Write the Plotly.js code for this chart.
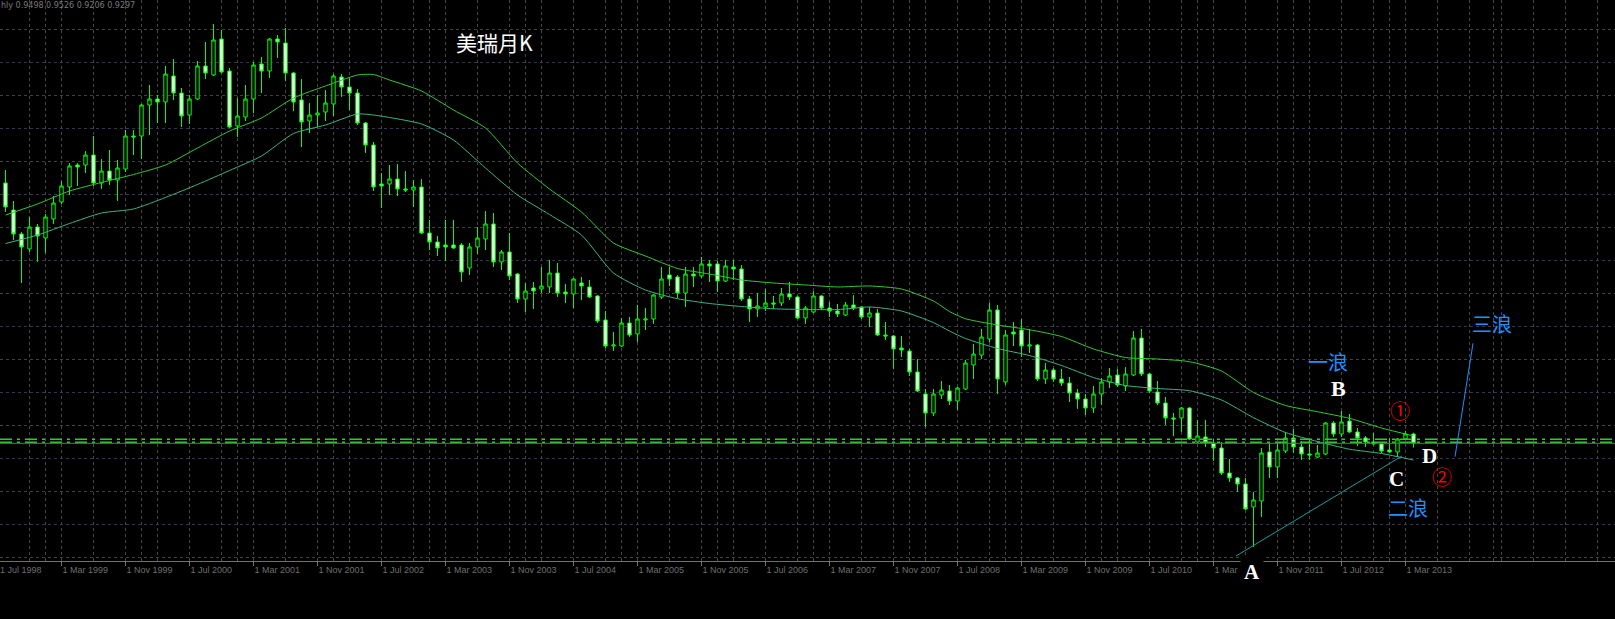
<!DOCTYPE html>
<html><head><meta charset="utf-8">
<script src="https://cdn.plot.ly/plotly-3.0.1.min.js"></script>
<style>html,body{margin:0;padding:0;background:#000;overflow:hidden}#chart{width:1615px;height:619px}</style>
</head><body><div id="chart"></div>
<script>
// USD/CHF monthly bars, Aug 1998 .. Apr 2013
const firstYear = 1998, firstMonth = 8;
const open = [
1.4907,1.4325,1.3808,1.3485,1.3959,1.3722,1.4131,1.4498,1.4821,1.5295,
1.5295,1.5510,1.4907,1.5165,1.4972,1.5209,1.5920,1.5920,1.6588,1.6717,
1.6653,1.7213,1.6846,1.6372,1.6717,1.7429,1.7234,1.8010,1.7320,1.6136,
1.6329,1.6717,1.7472,1.7320,1.8010,1.7924,1.7277,1.6696,1.6243,1.6372,
1.6437,1.6610,1.7191,1.6976,1.6846,1.6200,1.5726,1.4886,1.4886,1.4993,
1.4778,1.4756,1.4821,1.3829,1.3636,1.3571,1.3571,1.3571,1.3075,1.3528,
1.3700,1.4024,1.3205,1.3420,1.2946,1.2407,1.2645,1.2623,1.2666,1.2967,
1.2558,1.2515,1.2752,1.2666,1.2472,1.1955,1.1394,1.1394,1.1890,1.1653,
1.1955,1.1976,1.2450,1.2924,1.2881,1.2536,1.2946,1.2903,1.3162,1.3162,
1.2795,1.3097,1.3054,1.2407,1.2192,1.2235,1.2321,1.2321,1.2515,1.2450,
1.1998,1.2127,1.2472,1.2213,1.2148,1.2062,1.2278,1.2235,1.2019,1.2105,
1.1631,1.1610,1.1351,1.1286,1.0834,1.0360,0.9950,1.0338,1.0424,1.0209,
1.0468,1.0985,1.1200,1.1545,1.2170,1.0619,1.1696,1.1739,1.1394,1.1416,
1.0683,1.0877,1.0683,1.0597,1.0381,1.0252,1.0058,1.0360,1.0619,1.0769,
1.0532,1.0769,1.1567,1.0791,1.0403,1.0166,0.9843,0.9843,1.0058,0.9325,
0.9433,0.9304,0.9196,0.8657,0.8550,0.8421,0.7925,0.8054,0.9110,0.8787,
0.9131,0.9412,0.9218,0.9067,0.9002,0.9067,0.9735,0.9498,0.9778,0.9541,
0.9412,0.9325,0.9282,0.9153,0.9110,0.9390,0.9498];
const high = [
1.5187,1.4519,1.3851,1.4174,1.4024,1.4239,1.4627,1.4950,1.5338,1.5338,
1.5596,1.5920,1.5424,1.5618,1.5403,1.6049,1.6049,1.6610,1.7019,1.6803,
1.7429,1.7579,1.6955,1.6803,1.7536,1.7946,1.8334,1.8204,1.7386,1.6739,
1.7019,1.7515,1.7622,1.8032,1.8096,1.8248,1.7299,1.7148,1.6631,1.6803,
1.6911,1.7256,1.7256,1.7170,1.6933,1.6222,1.5791,1.5122,1.5295,1.5317,
1.5165,1.4972,1.4993,1.4110,1.3765,1.4110,1.4110,1.3614,1.3614,1.3959,
1.4304,1.4260,1.3463,1.3829,1.2967,1.2752,1.2774,1.3097,1.3248,1.3183,
1.2731,1.2860,1.2881,1.2817,1.2493,1.2148,1.1696,1.1998,1.2019,1.2278,
1.2213,1.2515,1.3097,1.3097,1.2924,1.3097,1.3097,1.3312,1.3248,1.3226,
1.3248,1.3248,1.3140,1.2472,1.2536,1.2623,1.2472,1.2645,1.2774,1.2472,
1.2256,1.2579,1.2493,1.2342,1.2299,1.2342,1.2493,1.2256,1.2235,1.2192,
1.1912,1.1631,1.1610,1.1330,1.1114,1.0468,1.0468,1.0640,1.0554,1.0511,
1.1093,1.1438,1.1761,1.2321,1.2278,1.1739,1.1912,1.1976,1.1761,1.1438,
1.1028,1.0920,1.0899,1.0726,1.0468,1.0360,1.0532,1.0705,1.0920,1.0899,
1.0942,1.1717,1.1761,1.0812,1.0640,1.0295,0.9950,1.0080,1.0080,0.9800,
0.9800,0.9390,0.9325,0.8959,0.8571,0.8550,0.8248,0.9196,0.9325,0.9325,
0.9541,0.9606,0.9347,0.9369,0.9261,0.9757,0.9778,0.9993,0.9929,0.9627,
0.9455,0.9520,0.9325,0.9412,0.9412,0.9563,0.9526];
const low = [
1.4282,1.3679,1.2752,1.3420,1.3205,1.3398,1.4024,1.4455,1.4648,1.4843,
1.5122,1.4843,1.4778,1.4864,1.4519,1.5144,1.5510,1.5424,1.5941,1.6200,
1.6200,1.6696,1.6114,1.6179,1.6696,1.7148,1.7213,1.7277,1.6093,1.5898,
1.6243,1.6415,1.6846,1.7170,1.7601,1.7105,1.6458,1.5683,1.5984,1.6114,
1.6243,1.6351,1.6760,1.6480,1.6157,1.5553,1.4734,1.4368,1.4648,1.4627,
1.4713,1.4390,1.3808,1.3463,1.3334,1.3226,1.3485,1.2774,1.2924,1.3377,
1.3463,1.3097,1.3032,1.2817,1.2321,1.2127,1.2192,1.2536,1.2536,1.2450,
1.2321,1.2213,1.2386,1.2429,1.1890,1.1351,1.1286,1.1373,1.1589,1.1481,
1.1739,1.1869,1.2407,1.2688,1.2429,1.2235,1.2666,1.2860,1.2774,1.2558,
1.2774,1.2817,1.2364,1.1912,1.2019,1.2148,1.2192,1.2256,1.2386,1.1976,
1.1869,1.2105,1.2170,1.2019,1.2019,1.2041,1.2170,1.1976,1.1804,1.1610,
1.1524,1.0899,1.1157,1.0748,1.0403,0.9649,0.9886,1.0252,1.0123,1.0015,
1.0446,1.0683,1.1114,1.1481,1.0360,1.0554,1.1394,1.1157,1.1243,1.0640,
1.0575,1.0619,1.0532,1.0187,1.0037,0.9907,0.9950,1.0123,1.0489,1.0511,
1.0424,1.0748,1.0748,1.0381,1.0123,0.9692,0.9455,0.9541,0.9369,0.9304,
0.9218,0.8916,0.8614,0.8464,0.8248,0.7860,0.7062,0.7709,0.8550,0.8550,
0.9088,0.9088,0.8938,0.8938,0.8981,0.9045,0.9433,0.9433,0.9520,0.9239,
0.9218,0.9261,0.9088,0.9088,0.9002,0.9369,0.9206];
const close = [
1.4390,1.3808,1.3528,1.3959,1.3765,1.4174,1.4476,1.4843,1.5274,1.5252,
1.5510,1.4907,1.5165,1.4972,1.5230,1.5920,1.5899,1.6588,1.6717,1.6653,
1.7256,1.6846,1.6351,1.6717,1.7429,1.7277,1.7989,1.7299,1.6114,1.6351,
1.6717,1.7450,1.7320,1.8010,1.7946,1.7277,1.6653,1.6222,1.6372,1.6415,
1.6631,1.7213,1.6976,1.6846,1.6200,1.5726,1.4821,1.4843,1.4993,1.4778,
1.4756,1.4821,1.3829,1.3636,1.3507,1.3528,1.3507,1.2989,1.3528,1.3722,
1.4024,1.3205,1.3420,1.2903,1.2407,1.2579,1.2579,1.2688,1.2967,1.2536,
1.2515,1.2838,1.2688,1.2450,1.1933,1.1394,1.1416,1.1890,1.1631,1.1976,
1.1976,1.2493,1.2838,1.2838,1.2536,1.2946,1.2903,1.3162,1.3119,1.2795,
1.3119,1.3054,1.2407,1.2192,1.2256,1.2321,1.2299,1.2515,1.2450,1.1998,
1.2213,1.2472,1.2213,1.2148,1.2084,1.2278,1.2213,1.2019,1.2105,1.1631,
1.1610,1.1330,1.1308,1.0834,1.0424,0.9950,1.0360,1.0446,1.0209,1.0489,
1.1028,1.1222,1.1588,1.2170,1.0683,1.1631,1.1653,1.1394,1.1416,1.0683,
1.0877,1.0683,1.0597,1.0381,1.0252,1.0058,1.0360,1.0619,1.0748,1.0554,
1.0791,1.1567,1.0791,1.0424,1.0166,0.9843,0.9821,1.0058,0.9390,0.9455,
0.9304,0.9196,0.8657,0.8550,0.8421,0.7882,0.8076,0.9088,0.8787,0.9153,
0.9412,0.9218,0.9067,0.9045,0.9088,0.9735,0.9498,0.9757,0.9541,0.9412,
0.9325,0.9282,0.9131,0.9110,0.9390,0.9498,0.9297];

// two moving-average envelope lines (bar index -> value)
const maBars = [0,4,8,12,16,20,24,28,32,36,40,44,46,48,52,56,60,64,68,72,76,80,84,88,92,96,100,104,108,112,116,118,120,124,128,132,136,140,144,148,152,156,160,164,168,172,176];
const maUpper = [1.4217,1.4455,1.4734,1.4918,1.5090,1.5295,1.5661,1.6027,1.6308,1.6739,1.6998,1.7234,1.7245,1.7127,1.6890,1.6480,1.6093,1.5338,1.4778,1.4282,1.3614,1.3334,1.3065,1.2946,1.2817,1.2752,1.2709,1.2666,1.2688,1.2623,1.2364,1.2137,1.1982,1.1847,1.1745,1.1599,1.1330,1.1146,1.1114,1.1056,1.0855,1.0392,1.0112,0.9978,0.9836,0.9627,0.9455];
const maLower = [1.3603,1.3786,1.4034,1.4260,1.4347,1.4595,1.4875,1.5176,1.5489,1.5974,1.6157,1.6394,1.6372,1.6319,1.6179,1.5834,1.5230,1.4648,1.4228,1.3786,1.2967,1.2601,1.2413,1.2310,1.2245,1.2196,1.2181,1.2178,1.2235,1.2148,1.1898,1.1717,1.1556,1.1340,1.1189,1.0974,1.0715,1.0543,1.0478,1.0431,1.0231,0.9849,0.9530,0.9335,0.9170,0.9077,0.8937];

// time-axis labels (bar index of each label); the Mar 2011 label is partly hidden behind the "A" marker
const tickBars = [7,15,23,31,39,47,55,63,71,79,87,95,103,111,119,127,135,143,151,159,167,175];
const tickLabels = ['1 Mar 1999','1 Nov 1999','1 Jul 2000','1 Mar 2001','1 Nov 2001','1 Jul 2002','1 Mar 2003','1 Nov 2003','1 Jul 2004','1 Mar 2005','1 Nov 2005','1 Jul 2006','1 Mar 2007','1 Nov 2007','1 Jul 2008','1 Mar 2009','1 Nov 2009','1 Jul 2010','1 Mar','1 Nov 2011','1 Jul 2012','1 Mar 2013'];
const cutLabel = '1 Jul 1998';

// horizontal levels
const levelLines = [0.9383, 0.9318];
const bidPrice = 0.9297;
const header = 'hly 0.9498 0.9526 0.9206 0.9297';

// ---- geometry helpers (pixel -> data) ----
const W = 1615, PLOT_H = 561, X0 = 5.5, PXB = 8, PTOP = 1.8851, PPU = 464;
const xd = px => (px - X0) / PXB;
const yd = py => PTOP - py / PPU;
const yp = py => (PLOT_H - py) / PLOT_H;   // pixel -> paper (for items below the plot)

const months = open.map((_, i) => {
  const m = firstMonth - 1 + i;
  return (firstYear + Math.floor(m / 12)) + '-' + String(m % 12 + 1).padStart(2, '0');
});
const idx = open.map((_, i) => i);

const traces = [
  {type:'scatter', mode:'lines', x: maBars, y: maUpper, line:{color:'#34c934', width:1, shape:'spline', smoothing:0.6}, hoverinfo:'skip', showlegend:false},
  {type:'scatter', mode:'lines', x: maBars, y: maLower, line:{color:'#3cb489', width:1, shape:'spline', smoothing:0.6}, hoverinfo:'skip', showlegend:false},
  {type:'candlestick', x: idx, open, high, low, close, text: months, hoverinfo:'text',
   increasing:{line:{color:'#00ff00', width:1}, fillcolor:'#000000'},
   decreasing:{line:{color:'#00ff00', width:1}, fillcolor:'#ffffff'},
   whiskerwidth:0, showlegend:false}
];

const shapes = [];
// vertical grid every 4 bars
for (let px = 29.5; px < W; px += 32) shapes.push({type:'line', layer:'below', xref:'x', yref:'paper', x0:xd(px), x1:xd(px), y0:0, y1:1, line:{color:'#474747', width:1, dash:'3px,3px'}});
// yearly period separators
for (let px = 45.5; px < 1400; px += 96) shapes.push({type:'line', layer:'below', xref:'x', yref:'paper', x0:xd(px), x1:xd(px), y0:0, y1:1, line:{color:'#474747', width:1, dash:'3px,3px'}});
shapes.push({type:'line', layer:'below', xref:'x', yref:'paper', x0:xd(1493.5), x1:xd(1493.5), y0:0, y1:1, line:{color:'#474747', width:1, dash:'3px,3px'}});
// horizontal grid (alternating colours)
for (let k = 0; k < 17; k++) {
  const py = 29.5 + 33 * k;
  shapes.push({type:'line', layer:'below', xref:'paper', yref:'y', x0:0, x1:1, y0:yd(py), y1:yd(py), line:{color: k % 2 ? '#35355c' : '#3a463e', width:1, dash:'3px,3px'}});
}
// level lines
levelLines.forEach(v => shapes.push({type:'line', layer:'above', xref:'paper', yref:'y', x0:0, x1:1, y0:v, y1:v, line:{color:'#22d422', width:1.5, dash:'12px,5px,3px,5px'}}));
shapes.push({type:'line', layer:'above', xref:'paper', yref:'y', x0:0, x1:1, y0:bidPrice, y1:bidPrice, line:{color:'#6a6a6a', width:1}});
// drawn trend lines
shapes.push({type:'line', layer:'above', xref:'x', yref:'y', x0:xd(1236), y0:yd(556), x1:xd(1402), y1:yd(456), line:{color:'#1c9c9c', width:1}});
shapes.push({type:'line', layer:'above', xref:'x', yref:'y', x0:xd(1455), y0:yd(456.7), x1:xd(1473), y1:yd(343.3), line:{color:'#1e90ff', width:1}});

const cjk = '"Noto Sans CJK SC", "Noto Sans", sans-serif';
const serif = '"Liberation Serif", "DejaVu Serif", serif';
const ann = (text, px, py, font, extra) => Object.assign({text, xref:'x', yref:'y', x:xd(px), y:yd(py), showarrow:false, xanchor:'center', yanchor:'middle', borderpad:0, font}, extra || {});
const annotations = [
  ann('美瑞月K', 494.5, 41.5, {family:cjk, size:21, color:'#ffffff'}),
  ann('一浪', 1328, 361, {family:cjk, size:20, color:'#1e90ff'}),
  ann('B', 1338, 388.5, {family:serif, size:22, color:'#ffffff', weight:'bold'}),
  ann('①', 1400, 410, {family:cjk, size:20, color:'#ff0000'}),
  ann('D', 1429, 455.5, {family:serif, size:21, color:'#ffffff', weight:'bold'}),
  ann('②', 1442, 476, {family:cjk, size:20, color:'#ff0000'}),
  ann('C', 1396.5, 479, {family:serif, size:21, color:'#ffffff', weight:'bold'}),
  ann('二浪', 1407.5, 507, {family:cjk, size:20, color:'#1e90ff'}),
  ann('三浪', 1492, 323.5, {family:cjk, size:20, color:'#1e90ff'}),
  {text:'A', xref:'x', yref:'paper', x:xd(1251.5), y:yp(572), xanchor:'center', yanchor:'middle', showarrow:false,
   bgcolor:'#000000', borderpad:3, font:{family:serif, size:21, color:'#ffffff', weight:'bold'}},
  {text: cutLabel, xref:'paper', yref:'paper', x:-2.2/W, y:yp(563), xanchor:'left', yanchor:'top', showarrow:false, font:{family:'"Liberation Sans", sans-serif', size:9, color:'#6e6e6e'}},
  {text: header, xref:'paper', yref:'paper', x:0, y:1, xanchor:'left', yanchor:'top', showarrow:false, borderpad:0, font:{family:'"DejaVu Sans", sans-serif', size:8, color:'#7a7a7a'}}
];

const layout = {
  width: W, height: 619,
  margin:{l:0, r:0, t:0, b:619 - PLOT_H, pad:0},
  paper_bgcolor:'#000000', plot_bgcolor:'#000000',
  boxgap: 0.4,
  showlegend:false,
  xaxis:{range:[xd(0), xd(W)], type:'linear', showgrid:false, zeroline:false, showline:true, linecolor:'#707070', linewidth:1,
         ticks:'outside', ticklen:4, tickcolor:'#707070', tickmode:'array', tickvals: tickBars, ticktext: tickLabels,
         ticklabelposition:'outside right', tickfont:{family:'"Liberation Sans", sans-serif', size:9, color:'#6e6e6e'},
         rangeslider:{visible:false}, fixedrange:true},
  yaxis:{range:[yd(PLOT_H), yd(0)], showgrid:false, zeroline:false, showticklabels:false, ticks:'', showline:false, fixedrange:true},
  shapes, annotations
};
Plotly.newPlot('chart', traces, layout, {displayModeBar:false, staticPlot:true});
</script></body></html>
